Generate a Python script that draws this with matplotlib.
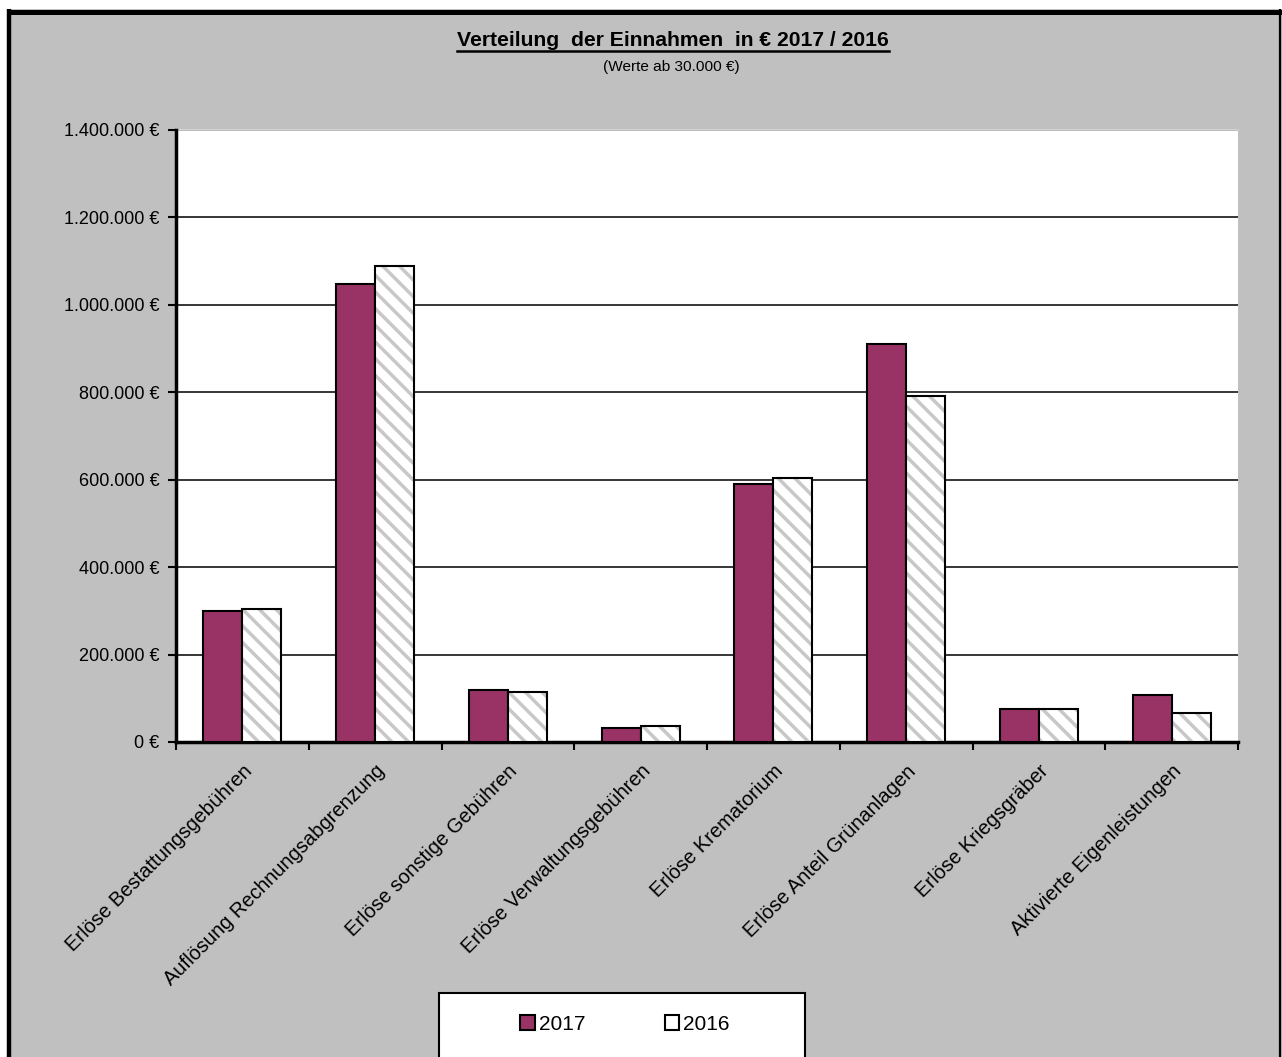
import numpy as np
import matplotlib
matplotlib.use('Agg')
import matplotlib.pyplot as plt
from matplotlib.patches import Rectangle
from matplotlib.lines import Line2D
from matplotlib.ticker import FuncFormatter, MultipleLocator

plt.rcParams['font.family'] = ['Liberation Sans', 'DejaVu Sans']
plt.rcParams['hatch.linewidth'] = 2.5

# data
categories = ['Erlöse Bestattungsgebühren', 'Auflösung Rechnungsabgrenzung',
              'Erlöse sonstige Gebühren', 'Erlöse Verwaltungsgebühren',
              'Erlöse Krematorium', 'Erlöse Anteil Grünanlagen',
              'Erlöse Kriegsgräber', 'Aktivierte Eigenleistungen']
values_2017 = [299000, 1047000, 119000, 32000, 590000, 910000, 75000, 107000]
values_2016 = [304000, 1089000, 114000, 37000, 604000, 791000, 75000, 66000]
series_labels = ['2017', '2016']

W, H = 1282, 1057
fig = plt.figure(figsize=(W / 100, H / 100), dpi=100)
fig.patch.set_facecolor('white')


def px(x, y):
    return x / W, 1 - y / H


# gray chart area with black border (left/top thick, right thin)
bg = Rectangle(px(7, H), (W - 7) / W, (H - 9) / H, transform=fig.transFigure,
               facecolor='#C0C0C0', edgecolor='none', zorder=-10)
fig.patches.append(bg)
for (x0, y0, x1, y1, lw) in [(9, 9, 9, H, 3.2), (7, 11.5, W, 11.5, 3.6),
                             (1280, 9, 1280, H, 1.6)]:
    (a, b), (c, d) = px(x0, y0), px(x1, y1)
    fig.add_artist(Line2D([a, c], [b, d], transform=fig.transFigure,
                          color='black', lw=lw, solid_capstyle='butt'))

left, right, top, bottom = 176, 1238, 130, 742
ax = fig.add_axes([left / W, 1 - bottom / H, (right - left) / W, (bottom - top) / H])
ax.set_facecolor('white')

x = np.arange(len(categories))
bw = 0.293
ax.bar(x - bw / 2, values_2017, bw, color='#993366', edgecolor='black',
       linewidth=1.5, zorder=3)
ax.bar(x + bw / 2, values_2016, bw, color='white', edgecolor='#C8C8C8',
       hatch='\\\\', linewidth=0, zorder=3)
ax.bar(x + bw / 2, values_2016, bw, color='none', edgecolor='black',
       linewidth=1.5, zorder=4)

ax.set_xlim(-0.5, len(categories) - 0.5)
ax.set_ylim(0, 1400000)
ax.yaxis.set_major_locator(MultipleLocator(200000))
ax.yaxis.set_major_formatter(FuncFormatter(
    lambda v, p: '{:,.0f} €'.format(v).replace(',', '.')))
ax.grid(axis='y', color='black', lw=1.1, zorder=1)
ax.set_axisbelow(True)

for s in ['top', 'right']:
    ax.spines[s].set_visible(False)
ax.spines['left'].set_linewidth(2.5)
ax.spines['bottom'].set_linewidth(2.5)
ax.plot([-0.5, len(categories) - 0.5], [1400000, 1400000], color='#D8D8D8',
        lw=1.2, clip_on=False, zorder=2)

# ticks sit between the categories, labels under the centres
ax.set_xticks(np.arange(len(categories) + 1) - 0.5, minor=False)
ax.set_xticklabels([])
ax.set_xticks(x, minor=True)
ax.set_xticklabels(categories, minor=True, rotation=45, ha='right',
                   rotation_mode='anchor', fontsize=14.5)
ax.tick_params(axis='x', which='minor', length=0, pad=14)
ax.tick_params(axis='x', which='major', length=6, width=1.5, direction='out')
ax.tick_params(axis='y', length=6, width=1.5, labelsize=13, pad=6)

# title with underline
t = fig.text(0.525, 1 - 41 / H, 'Verteilung  der Einnahmen  in € 2017 / 2016',
             ha='center', va='center', fontsize=15.2, fontweight='bold')
fig.text(0.524, 1 - 67 / H, '(Werte ab 30.000 €)', ha='center', va='center',
         fontsize=11.1)
fig.canvas.draw()
bb = t.get_window_extent()
yline = (bb.y0 - 0.5) / H
fig.add_artist(Line2D([bb.x0 / W, bb.x1 / W], [yline, yline],
                      transform=fig.transFigure, color='black', lw=1.8))

# legend box
frame = Rectangle(px(439, H + 5), (805 - 439) / W, (H + 5 - 993) / H,
                  transform=fig.transFigure, facecolor='white',
                  edgecolor='black', lw=1.5, zorder=5)
fig.add_artist(frame)
handles = [Rectangle((0, 0), 1, 1, facecolor='#993366', edgecolor='black', lw=1.5),
           Rectangle((0, 0), 1, 1, facecolor='white', edgecolor='black', lw=1.5)]
leg = fig.legend(handles, series_labels, loc='center',
                 bbox_to_anchor=(625 / W, 1 - 1024 / H),
                 ncol=2, fontsize=15, frameon=False,
                 handlelength=0.7, handleheight=0.7,
                 handletextpad=0.2, columnspacing=3.8, borderaxespad=0)
leg.set_zorder(6)

fig.savefig('out.png', dpi=100, facecolor=fig.get_facecolor())
